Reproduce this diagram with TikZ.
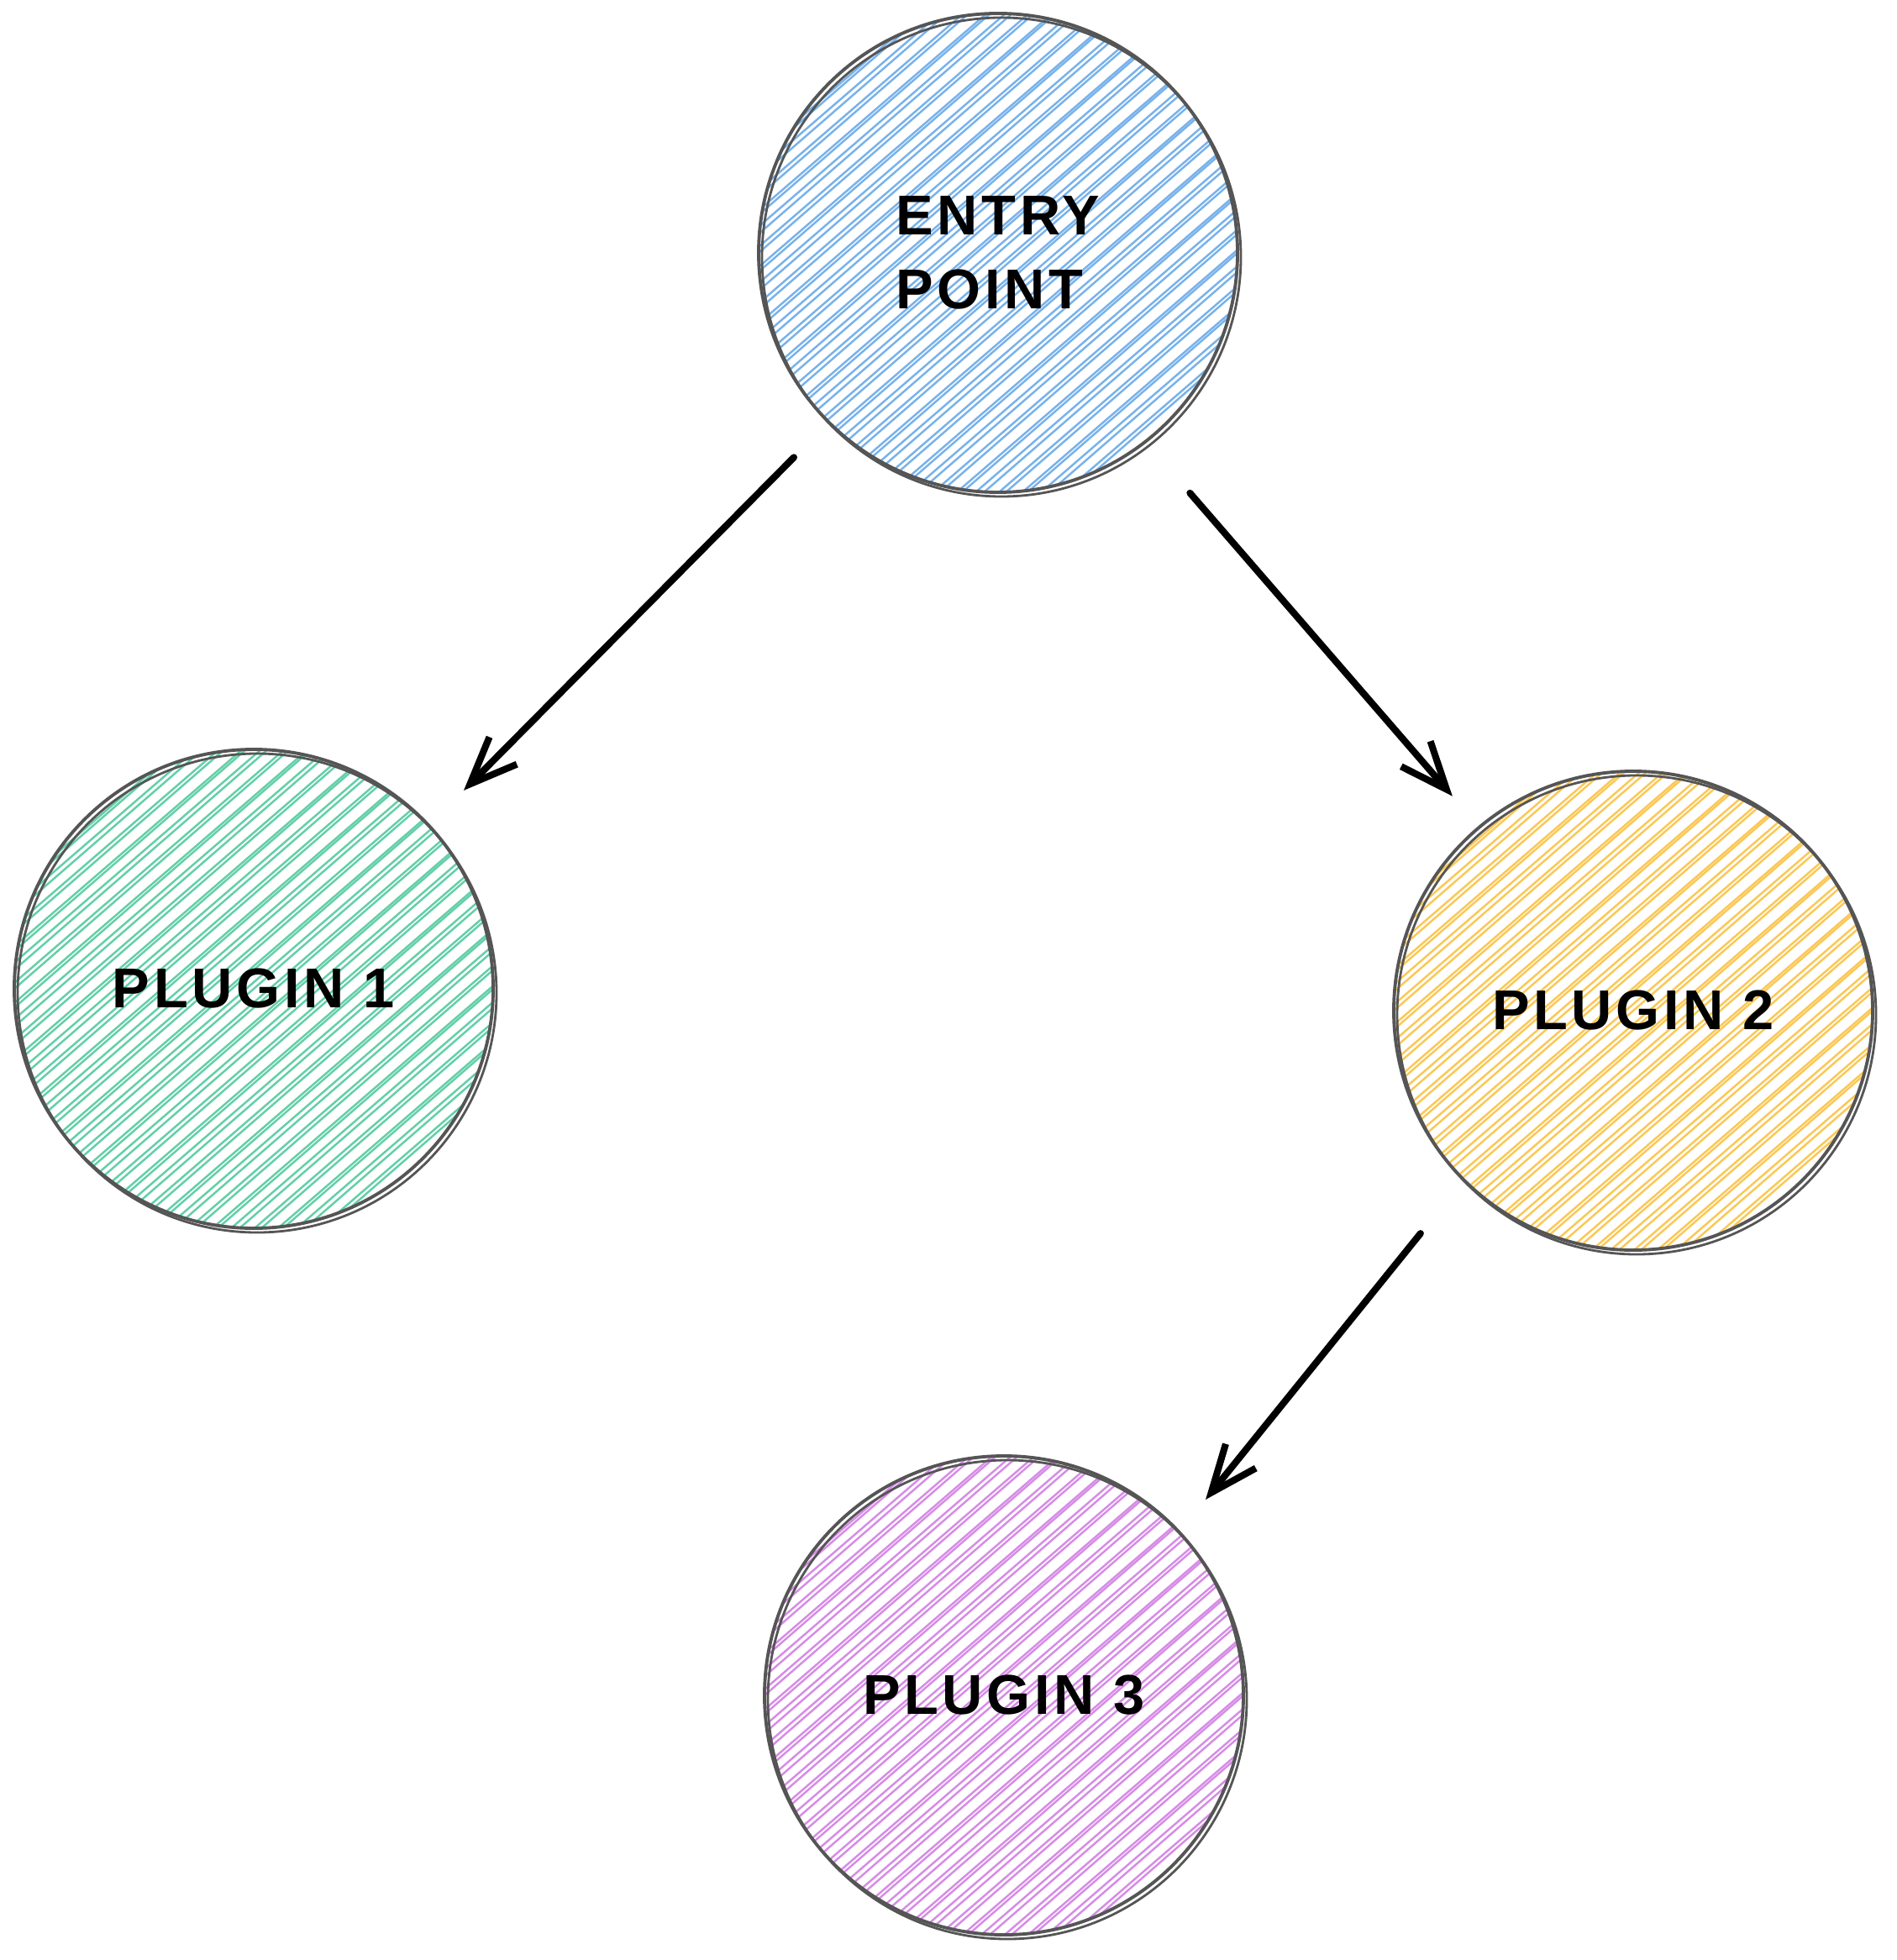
\documentclass[tikz,border=0pt]{standalone}
\usepackage{fontspec}
\usepackage{tikz}
\usetikzlibrary{shapes,arrows.meta,calc}
\newfontfamily\sketchfont[LetterSpace=7]{Liberation Sans}
\definecolor{outline}{HTML}{555555}
\definecolor{entryblue}{HTML}{78B2EB}
\definecolor{plugingreen}{HTML}{63CFA8}
\definecolor{pluginyellow}{HTML}{FBC856}
\definecolor{pluginpurple}{HTML}{D68CE6}
\tikzset{
  hatch/.style={line width=0.7pt, draw=#1},
  bubble/.style={circle, minimum size=5.7cm, inner sep=0pt, draw=outline, line width=1.1pt,
    font=\sketchfont\bfseries\fontsize{19}{25}\selectfont, align=left,
    postaction={draw=outline, line width=0.8pt, transform canvas={xshift=0.4mm, yshift=-0.5mm}},
    path picture={
      \coordinate (mid) at (path picture bounding box.center);
      \foreach \k in {-18,...,18}{
        \pgfmathsetmacro\gap{0.025+0.012*mod(\k+20,3)}
        \draw[hatch=#1] ($(mid)+(131:\k*0.17)+(41:3)$) -- ($(mid)+(131:\k*0.17)+(221:3)$);
        \draw[hatch=#1] ($(mid)+(131:\k*0.17+\gap)+(41:3)$) -- ($(mid)+(131:\k*0.17+\gap+0.02)+(221:3)$);
      }}},
  link/.style={-{Straight Barb[length=5.6mm,width=4.6mm]}, line width=2.3pt, line cap=round}
}
\begin{document}
\begin{tikzpicture}
\useasboundingbox (0,0) rectangle (22.58,-23.33);

% to draw the circles
\node [bubble=entryblue] (entry) at (11.88,-3.01) {ENTRY\\POINT};
\node [bubble=plugingreen] (plugin1) at (3.02,-11.77) {PLUGIN 1};
\node [bubble=pluginyellow] (plugin2) at (19.44,-12.03) {PLUGIN 2};
\node [bubble=pluginpurple] (plugin3) at (11.95,-20.18) {PLUGIN 3};

% to draw arrows between them
\draw [link, shorten <=0.57cm, shorten >=0.57cm] (entry.225) -- (plugin1.43);
\draw [link, shorten <=0.79cm, shorten >=0.47cm] (entry.308.6) -- (plugin2.130);
\draw [link, shorten <=0.80cm, shorten >=0.48cm] (plugin2.225.7) -- (plugin3.43.2);
\end{tikzpicture}
\end{document}
